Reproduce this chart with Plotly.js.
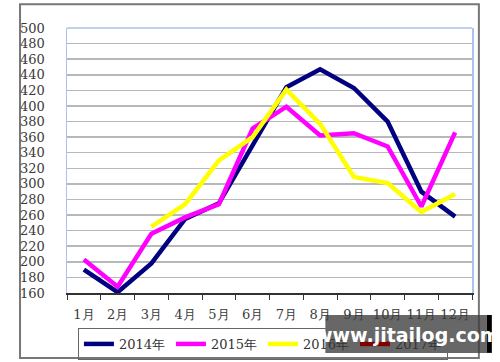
<!DOCTYPE html>
<html>
<head>
<meta charset="utf-8">
<script src="https://cdn.plot.ly/plotly-3.0.1.min.js"></script>
<style>html,body{margin:0;padding:0;background:#fff;}#chart{width:500px;height:362px;}</style>
</head>
<body>
<div id="chart"></div>
<script>
const months = ['1月','2月','3月','4月','5月','6月','7月','8月','9月','10月','11月','12月'];
const seriesNames = ['2014年','2015年','2016年','2017年'];
const y2014 = [190, 161, 198, 255, 275, 350, 424, 447, 423, 380, 290, 258];
const y2015 = [203, 168, 236, 257, 274, 371, 399, 362, 365, 348, 271, 366];
const y2016 = [null, null, 245, 274, 330, 360, 421, 377, 309, 301, 264, 287];
const y2017 = [null, null, null, null, null, null, null, null, null, null, null, null];
const colors = ['#000080', '#ff00ff', '#ffff00', '#800000'];

const serif = 'DejaVu Serif, serif';
const allY = [y2014, y2015, y2016, y2017];
const traces = allY.map((ys, i) => ({
  type: 'scatter', mode: 'lines', name: seriesNames[i],
  x: months, y: ys, connectgaps: false,
  line: {color: colors[i], width: 4.5}
}));

const layout = {
  width: 500, height: 362,
  margin: {l: 67, r: 28, t: 28, b: 69, autoexpand: false},
  paper_bgcolor: '#ffffff', plot_bgcolor: '#ffffff',
  font: {family: serif, size: 13, color: '#3a3a3a'},
  showlegend: true,
  legend: {
    orientation: 'h', xref: 'paper', x: 0.027, yref: 'container', y: 0.094,
    xanchor: 'left', yanchor: 'top', bgcolor: 'rgba(255,255,255,0)',
    bordercolor: '#666', borderwidth: 1, font: {family: serif, size: 13, color: '#333'},
    entrywidth: 47, entrywidthmode: 'pixels', traceorder: 'normal', tracegroupgap: 0
  },
  xaxis: {
    type: 'category', categoryorder: 'array', categoryarray: months,
    range: [-0.5, 11.5], tickson: 'boundaries', ticks: 'outside', ticklen: 5,
    tickcolor: '#333', showline: true, linecolor: '#333', linewidth: 1.5,
    showgrid: false, zeroline: false, ticklabelstandoff: 9, tickangle: 0,
    automargin: false,
    tickfont: {family: serif, size: 13, color: '#3a3a3a'}
  },
  yaxis: {
    range: [160, 500], dtick: 20, tick0: 160, ticks: '',
    showline: true, linecolor: '#a9c3ea', linewidth: 1.5, mirror: true,
    showgrid: true, gridcolor: '#b8b8b8', gridwidth: 1.5, zeroline: false,
    automargin: false,
    ticklabelstandoff: 18, tickfont: {family: serif, size: 13, color: '#3a3a3a'}
  },
  shapes: [
    {type: 'line', xref: 'paper', yref: 'paper', x0: 0, x1: 1, y0: 1, y1: 1,
     line: {color: '#a9c3ea', width: 1.5}},
    {type: 'rect', xref: 'paper', yref: 'paper', x0: -0.116, x1: 1.017, y0: -0.245, y1: 1.09,
     line: {color: '#777', width: 2}, layer: 'below'},
    {type: 'rect', xref: 'paper', yref: 'paper', x0: 0.638, x1: 1.037, y0: -0.226, y1: -0.083,
     fillcolor: '#3c3c3c', opacity: 0.78, line: {width: 0}, layer: 'above'},
    {type: 'rect', xref: 'paper', yref: 'paper', x0: 1.037, x1: 1.049, y0: -0.226, y1: -0.083,
     fillcolor: '#000', line: {width: 0}, layer: 'above'}
  ],
  annotations: [
    {xref: 'paper', yref: 'paper', x: 0.84, y: -0.158, xanchor: 'center', yanchor: 'middle',
     text: '<b>www.jitailog.com</b>', showarrow: false,
     font: {family: 'DejaVu Sans, sans-serif', size: 19, color: '#ffffff'}}
  ]
};

Plotly.newPlot('chart', traces, layout, {displayModeBar: false, staticPlot: true});
</script>
</body>
</html>
